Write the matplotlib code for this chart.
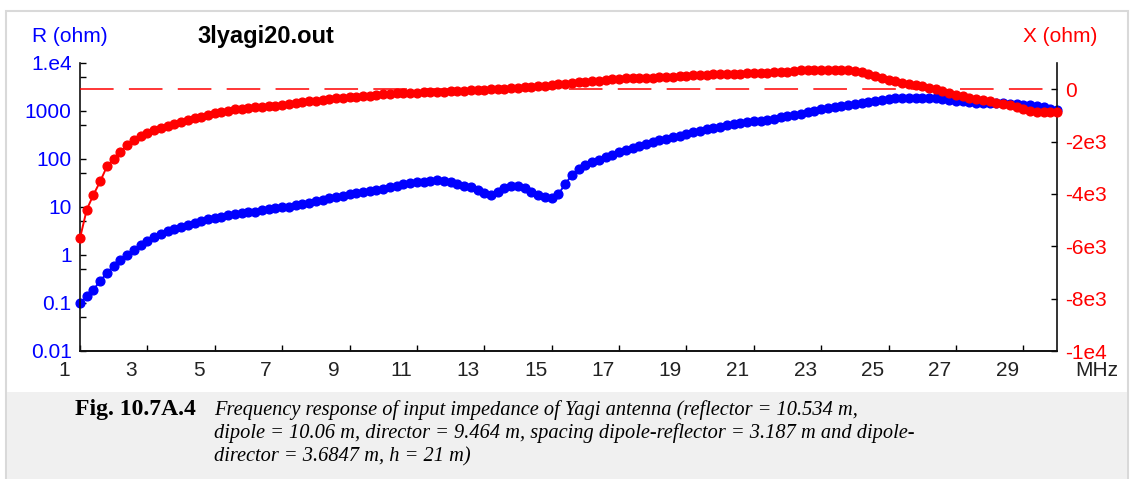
import numpy as np
import matplotlib
matplotlib.use('Agg')
import matplotlib.pyplot as plt
from matplotlib.patches import Rectangle
from matplotlib.transforms import ScaledTranslation

# input resistance R (ohm), sampled every 0.2 MHz from 1 to 30 MHz
r_ohm = [
    0.10, 0.14, 0.19, 0.29, 0.42, 0.60, 0.80, 1.02, 1.30, 1.62,
    2.0, 2.4, 2.75, 3.15, 3.5, 3.9, 4.25, 4.7, 5.2, 5.6,
    6.0, 6.3, 6.8, 7.3, 7.6, 7.8, 8.0, 8.5, 9.0, 9.4,
    9.8, 10.2, 10.8, 11.4, 12.3, 13.3, 14.3, 15.2, 16.0, 17.3,
    18.7, 20.0, 20.8, 21.5, 22.2, 23.5, 25.5, 27.5, 29.5, 31.5,
    32.5, 33.0, 34.5, 36.0, 34.5, 32.5, 30.5, 28.0, 25.5, 22.5,
    19.5, 17.8, 20.5, 24.5, 27.0, 27.0, 25.0, 21.0, 17.5, 15.8,
    15.2, 18.5, 30.0, 46.0, 62.0, 75.0, 86.0, 97.0, 110, 124,
    138, 152, 168, 185, 203, 222, 245, 265, 285, 305,
    330, 360, 390, 420, 450, 475, 500, 525, 555, 580,
    605, 630, 660, 695, 735, 780, 830, 880, 940, 1010,
    1080, 1140, 1200, 1260, 1320, 1380, 1440, 1510, 1590, 1680,
    1760, 1830, 1870, 1880, 1880, 1880, 1870, 1850, 1790, 1710,
    1640, 1580, 1530, 1500, 1480, 1470, 1460, 1450, 1430, 1400,
    1360, 1320, 1260, 1190, 1120, 1050,
]

# input reactance X (ohm), same frequencies
x_ohm = [
    -5690, -4600, -4030, -3520, -2950, -2650, -2390, -2150, -1960, -1800,
    -1660, -1555, -1470, -1400, -1330, -1250, -1175, -1110, -1045, -985,
    -920, -865, -820, -775, -740, -705, -680, -665, -650, -625,
    -595, -560, -530, -500, -470, -440, -410, -380, -350, -330,
    -315, -295, -270, -245, -220, -195, -165, -150, -145, -140,
    -135, -125, -115, -105, -95, -85, -78, -65, -45, -30,
    -15, 0, 10, 25, 40, 55, 70, 90, 110, 135,
    160, 185, 210, 235, 260, 280, 305, 330, 355, 375,
    395, 415, 425, 430, 435, 445, 460, 470, 480, 495,
    510, 525, 540, 555, 568, 575, 582, 590, 598, 608,
    615, 622, 630, 638, 648, 670, 700, 720, 725, 725,
    725, 725, 725, 725, 720, 700, 650, 590, 510, 430,
    365, 300, 250, 205, 160, 110, 60, 0, -70, -145,
    -210, -270, -330, -380, -420, -465, -515, -560, -620, -685,
    -750, -820, -860, -875, -880, -880,
]

freq = np.linspace(1.0, 30.0, len(r_ohm))

x_ticks = [1, 3, 5, 7, 9, 11, 13, 15, 17, 19, 21, 23, 25, 27, 29]
r_ticks = [0.01, 0.1, 1, 10, 100, 1000, 1e4]
r_labels = ['0.01', '0.1', '1', '10', '100', '1000', '1.e4']
r_minor = [0.05, 0.5, 5, 50, 500, 5000]
x_ohm_ticks = [0, -2000, -4000, -6000, -8000, -10000]
x_ohm_labels = ['0', '-2e3', '-4e3', '-6e3', '-8e3', '-1e4']

caption_bold = 'Fig. 10.7A.4'
caption_lines = [
    'Frequency response of input impedance of Yagi antenna (reflector = 10.534 m,',
    'dipole = 10.06 m, director = 9.464 m, spacing dipole-reflector = 3.187 m and dipole-',
    'director = 3.6847 m, h = 21 m)',
]

W, H = 1130, 479
BLUE = '#0000ff'
RED = '#ff0000'

plt.rcParams['font.family'] = ['Liberation Sans', 'DejaVu Sans']

fig = plt.figure(figsize=(W / 100, H / 100), dpi=100)


def fx(px):
    return px / W


def fy(py):
    return 1 - py / H


# page border and caption band
fig.patches.append(Rectangle((fx(6), fy(480)), fx(1122), 469 / H,
                             transform=fig.transFigure, facecolor='white',
                             edgecolor='#d9d9d9', linewidth=1.5, zorder=-10))
fig.patches.append(Rectangle((fx(7), 0), fx(1120), 87 / H,
                             transform=fig.transFigure, facecolor='#f0f0f0',
                             edgecolor='none', zorder=-9))

ax = fig.add_axes([fx(80), fy(351), fx(1057 - 80), (351 - 63) / H])
ax.patch.set_alpha(0)
ax2 = ax.twinx()

ax.plot(freq, r_ohm, color=BLUE, marker='o', ms=6.3, mec=BLUE, mfc=BLUE,
        lw=1.4, clip_on=False)
ax2.plot(freq, x_ohm, color=RED, marker='o', ms=6.3, mec=RED, mfc=RED,
         lw=1.4, clip_on=False, zorder=3)
ax2.axhline(0, color=RED, lw=1.1, dashes=(22, 10), zorder=2)

ax.set_xlim(1, 30)
ax.set_yscale('log')
ax.set_ylim(0.01, 1e4)
ax2.set_ylim(-10000, 1000)

ax.set_yticks(r_ticks)
ax.set_yticklabels(r_labels)
ax.set_yticks(r_minor, minor=True)
ax.yaxis.set_minor_formatter(plt.NullFormatter())
ax2.set_yticks(x_ohm_ticks)
ax2.set_yticklabels(x_ohm_labels)
ax.set_xticks(x_ticks)
ax.set_xticklabels([str(t) for t in x_ticks])

for a in (ax, ax2):
    a.spines['top'].set_visible(False)
    for s in a.spines.values():
        s.set_linewidth(1.2)
        s.set_color('#111111')
ax2.spines['left'].set_visible(False)
ax.spines['right'].set_visible(False)

ax.tick_params(axis='x', direction='in', length=4, width=1, pad=7,
               labelsize=15, labelcolor='#222222')
ax.tick_params(axis='y', which='both', direction='in', length=4, width=1, pad=6,
               labelsize=15, labelcolor=BLUE)
ax2.tick_params(axis='y', direction='in', length=4, width=1, pad=6,
                labelsize=15, labelcolor=RED)

shift = ScaledTranslation(-16 / 100, 0, fig.dpi_scale_trans)
for lab in ax.get_xticklabels():
    lab.set_transform(lab.get_transform() + shift)

fig.text(fx(70), fy(36), 'R (ohm)', color=BLUE, fontsize=15, ha='center', va='center')
fig.text(fx(1060), fy(36), 'X (ohm)', color=RED, fontsize=15, ha='center', va='center')
fig.text(fx(266), fy(36), '3lyagi20.out', color='black', fontsize=17,
         fontweight='bold', ha='center', va='center')
fig.text(fx(1097), fy(370), 'MHz', color='#222222', fontsize=15, ha='center', va='center')

# caption
fig.text(fx(75), fy(415), caption_bold, family='Liberation Serif', fontweight='bold',
         fontsize=17, ha='left', va='baseline', color='black')
for i, line in enumerate(caption_lines):
    fig.text(fx(214), fy(415 + 23 * i), line, family='Liberation Serif', style='italic',
             fontsize=14.7, ha='left', va='baseline', color='black')

fig.savefig('out.png', dpi=100)
